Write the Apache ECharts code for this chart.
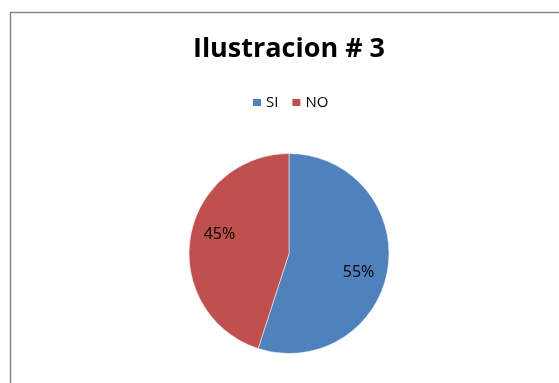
<!DOCTYPE html>
<html><head><meta charset="utf-8">
<script src="https://cdn.jsdelivr.net/npm/echarts@6/dist/echarts.min.js"></script>
<style>html,body{margin:0;padding:0;background:#fff}#c{width:559px;height:383px}</style>
</head><body><div id="c"></div>
<script>
const titleText = 'Ilustracion # 3';
const categories = ['SI', 'NO'];
const values = [55, 45];
const colors = ['#4F81BD', '#C0504D'];

const chart = echarts.init(document.getElementById('c'));
const pieData = categories.map((n, i) => ({ name: n, value: values[i], itemStyle: { color: colors[i] } }));
chart.setOption({
  animation: false,
  title: {
    text: titleText, left: 284, textAlign: 'center', top: 31,
    textStyle: { fontFamily: 'Open Sans', fontWeight: 'bold', fontSize: 27, color: '#000' }
  },
  legend: {
    top: 90, left: 246, itemWidth: 10, itemHeight: 9, itemGap: 12,
    icon: 'rect',
    data: categories.map((n, i) => ({ name: n, itemStyle: { color: colors[i] } })),
    textStyle: { fontFamily: 'Open Sans', fontSize: 15, color: '#000', padding: [0, 0, 0, -1] }
  },
  graphic: [{
    type: 'rect', shape: { x: 10.5, y: 12.5, width: 600, height: 400 },
    style: { fill: 'none', stroke: '#888', lineWidth: 1.5 }, silent: true
  }],
  series: [{
    type: 'pie', center: [289, 253.5], radius: 100, startAngle: 90, clockwise: true,
    label: { show: false }, labelLine: { show: false },
    itemStyle: { borderColor: '#fff', borderWidth: 0.5 },
    emphasis: { disabled: true }, silent: true,
    data: pieData
  }, {
    type: 'pie', center: [289, 253.5], radius: [38, 100], startAngle: 84, clockwise: true,
    itemStyle: { color: 'rgba(0,0,0,0)' },
    label: { show: true, position: 'inside', formatter: '{c}%', fontFamily: 'Open Sans', fontSize: 16, color: '#000' },
    labelLine: { show: false },
    emphasis: { disabled: true }, silent: true,
    data: categories.map((n, i) => ({ name: n, value: values[i] }))
  }]
});
</script></body></html>
